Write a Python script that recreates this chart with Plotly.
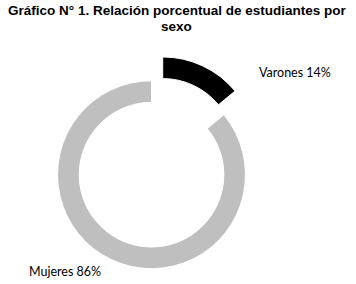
import plotly.graph_objects as go

labels = ["Varones", "Mujeres"]
values = [14, 86]
colors = ["#000000", "#BFBFBF"]
pulls = [0.14, 0.14]
title_lines = ["Gráfico N° 1. Relación porcentual de estudiantes por", "sexo"]

W, H = 356, 284

fig = go.Figure()
fig.add_trace(go.Pie(
    labels=labels,
    values=values,
    hole=0.77,
    sort=False,
    direction="clockwise",
    rotation=0,
    pull=pulls,
    marker=dict(colors=colors, line=dict(color="white", width=1)),
    textinfo="none",
    hoverinfo="label+percent",
    showlegend=False,
    domain=dict(x=[50 / W, 264.2 / W], y=[1 - 270 / H, 1 - 55.6 / H]),
))

label_pos = [(257, 72), (27, 271)]
for lab, val, (px, py) in zip(labels, values, label_pos):
    fig.add_annotation(
        x=px / W, y=1 - py / H, xref="paper", yref="paper",
        xanchor="left", yanchor="middle", showarrow=False,
        text=f"{lab} {val}%",
        font=dict(family="Lato, Carlito, sans-serif", size=12.5, color="#000000"),
    )

title_y = [11, 27]
for line, py in zip(title_lines, title_y):
    fig.add_annotation(
        x=176.5 / W, y=1 - py / H, xref="paper", yref="paper",
        xanchor="center", yanchor="middle", showarrow=False,
        text=f"<b>{line}</b>",
        font=dict(family="Liberation Sans, Arial, sans-serif", size=13.5, color="#000000"),
    )

fig.update_layout(
    width=W, height=H,
    margin=dict(l=0, r=0, t=0, b=0),
    paper_bgcolor="white",
    plot_bgcolor="white",
)

fig.write_html(
    "out.html",
    config={"displayModeBar": False},
    post_script="document.body.style.margin='0';",
)
